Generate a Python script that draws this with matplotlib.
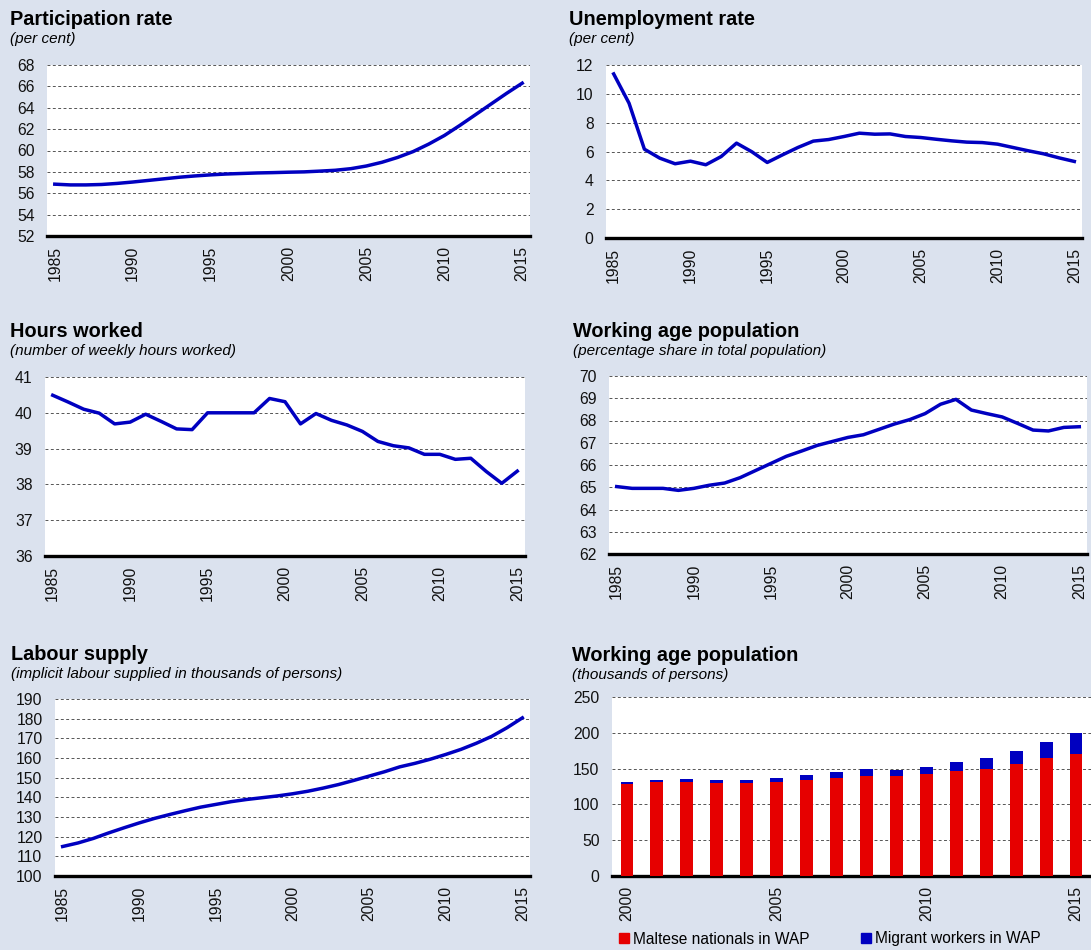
import matplotlib
matplotlib.use('Agg')
import matplotlib.pyplot as plt
from matplotlib.lines import Line2D
import numpy as np

plt.rcParams['font.family'] = ['Liberation Sans', 'DejaVu Sans']

# annual series, 1985-2015
years = list(range(1985, 2016))

participation = [56.85, 56.78, 56.78, 56.82, 56.92, 57.05, 57.2, 57.35, 57.5, 57.62,
                 57.72, 57.8, 57.85, 57.9, 57.93, 57.97, 58.0, 58.07, 58.15, 58.3,
                 58.55, 58.9, 59.35, 59.9, 60.6, 61.4, 62.35, 63.35, 64.35, 65.35, 66.3]

unemployment = [11.38, 9.35, 6.16, 5.54, 5.15, 5.33, 5.08, 5.65, 6.58, 5.98,
                5.24, 5.77, 6.28, 6.72, 6.83, 7.04, 7.27, 7.2, 7.22, 7.04,
                6.97, 6.85, 6.74, 6.65, 6.62, 6.51, 6.28, 6.05, 5.84, 5.56, 5.31]

hours = [40.49, 40.3, 40.1, 39.99, 39.69, 39.74, 39.96, 39.76, 39.55, 39.53,
         40.0, 40.0, 40.0, 40.0, 40.4, 40.31, 39.69, 39.98, 39.79, 39.66,
         39.48, 39.2, 39.08, 39.02, 38.84, 38.84, 38.7, 38.73, 38.36, 38.03, 38.37]

wap_share = [65.03, 64.95, 64.95, 64.95, 64.86, 64.95, 65.09, 65.19, 65.43, 65.75,
             66.07, 66.39, 66.63, 66.88, 67.06, 67.24, 67.36, 67.6, 67.84, 68.04,
             68.31, 68.73, 68.95, 68.47, 68.31, 68.16, 67.87, 67.57, 67.53, 67.69, 67.72]

labour_supply = [115.0, 116.8, 119.1, 121.9, 124.5, 127.0, 129.3, 131.3, 133.2, 135.0,
                 136.4, 137.8, 138.9, 139.8, 140.7, 141.8, 143.1, 144.7, 146.5, 148.6,
                 150.8, 153.0, 155.5, 157.3, 159.4, 161.8, 164.4, 167.5, 171.0, 175.4, 180.4]

# working age population by group, 2000-2015
bar_years = list(range(2000, 2016))
maltese = [128, 131, 131, 130, 130, 131.5, 134, 136.7, 139.5, 139.5, 142.3, 147, 150, 156, 164.6, 171]
migrants = [3.5, 3.5, 4, 3.5, 4, 5, 6.5, 8, 10, 9, 10, 12, 14.5, 18, 23, 28.5]

BG = '#dbe2ee'
LINE = '#0000c0'
RED = '#e60000'

W, H = 1091, 950
fig = plt.figure(figsize=(W / 100, H / 100), dpi=100, facecolor=BG)


def make_ax(left, right, top, bottom):
    return fig.add_axes([left / W, 1 - bottom / H, (right - left) / W, (bottom - top) / H])


def style(ax, ylim, yticks, xlim, xticks):
    ax.set_facecolor('white')
    ax.set_ylim(*ylim)
    ax.set_yticks(yticks)
    ax.set_xlim(*xlim)
    ax.set_xticks(xticks)
    ax.set_xticklabels([str(x) for x in xticks], rotation=90)
    for s in ['top', 'right', 'left']:
        ax.spines[s].set_visible(False)
    ax.spines['bottom'].set_linewidth(2.4)
    ax.spines['bottom'].set_color('black')
    ax.tick_params(axis='both', length=0, labelsize=11.3, colors='#111111')
    ax.tick_params(axis='y', pad=9)
    ax.tick_params(axis='x', pad=7)
    ax.grid(axis='y', color='#555555', linestyle=(0, (3, 2.5)), linewidth=0.7)
    ax.set_axisbelow(True)


def titles(x, y, title, subtitle):
    fig.text(x / W, 1 - y / H, title, fontsize=14.3, fontweight='bold', va='baseline')
    fig.text(x / W, 1 - (y + 18) / H, subtitle, fontsize=11, style='italic', va='baseline')


line_xticks = [1985, 1990, 1995, 2000, 2005, 2010, 2015]
line_xlim = (1984.5, 2015.5)

ax1 = make_ax(47, 530, 65, 236)
ax1.plot(years, participation, color=LINE, lw=2.5)
style(ax1, (52, 68), range(52, 69, 2), line_xlim, line_xticks)
titles(10, 25, 'Participation rate', '(per cent)')

ax2 = make_ax(606, 1082, 65, 238)
ax2.plot(years, unemployment, color=LINE, lw=2.5)
style(ax2, (0, 12), range(0, 13, 2), line_xlim, line_xticks)
titles(569, 25, 'Unemployment rate', '(per cent)')

ax3 = make_ax(45, 525, 377, 556)
ax3.plot(years, hours, color=LINE, lw=2.5)
style(ax3, (36, 41), range(36, 42), line_xlim, line_xticks)
titles(10, 337, 'Hours worked', '(number of weekly hours worked)')

ax4 = make_ax(609, 1087, 376, 554)
ax4.plot(years, wap_share, color=LINE, lw=2.5)
style(ax4, (62, 70), range(62, 71), line_xlim, line_xticks)
titles(573, 337, 'Working age population', '(percentage share in total population)')

ax5 = make_ax(55, 530, 699, 876)
ax5.plot(years, labour_supply, color=LINE, lw=2.5)
style(ax5, (100, 190), range(100, 191, 10), line_xlim, line_xticks)
titles(11, 660, 'Labour supply', '(implicit labour supplied in thousands of persons)')

ax6 = make_ax(612, 1091, 697, 876)
ax6.bar(bar_years, maltese, width=0.43, color=RED, zorder=3)
ax6.bar(bar_years, migrants, width=0.43, bottom=maltese, color=LINE, zorder=3)
style(ax6, (0, 250), range(0, 251, 50), (1999.5, 2015.5), [2000, 2005, 2010, 2015])
titles(572, 661, 'Working age population', '(thousands of persons)')

handles = [Line2D([], [], marker='s', linestyle='none', markersize=7, color=RED),
           Line2D([], [], marker='s', linestyle='none', markersize=7, color=LINE)]
fig.legend(handles, ['Maltese nationals in WAP', 'Migrant workers in WAP'],
           loc='center left', bbox_to_anchor=(619 / W, 1 - 939 / H), ncol=2,
           frameon=False, fontsize=11.2, handlelength=0.6, handletextpad=0.3,
           columnspacing=3.3, borderaxespad=0, borderpad=0)

fig.savefig('out.png', dpi=100, facecolor=BG)
